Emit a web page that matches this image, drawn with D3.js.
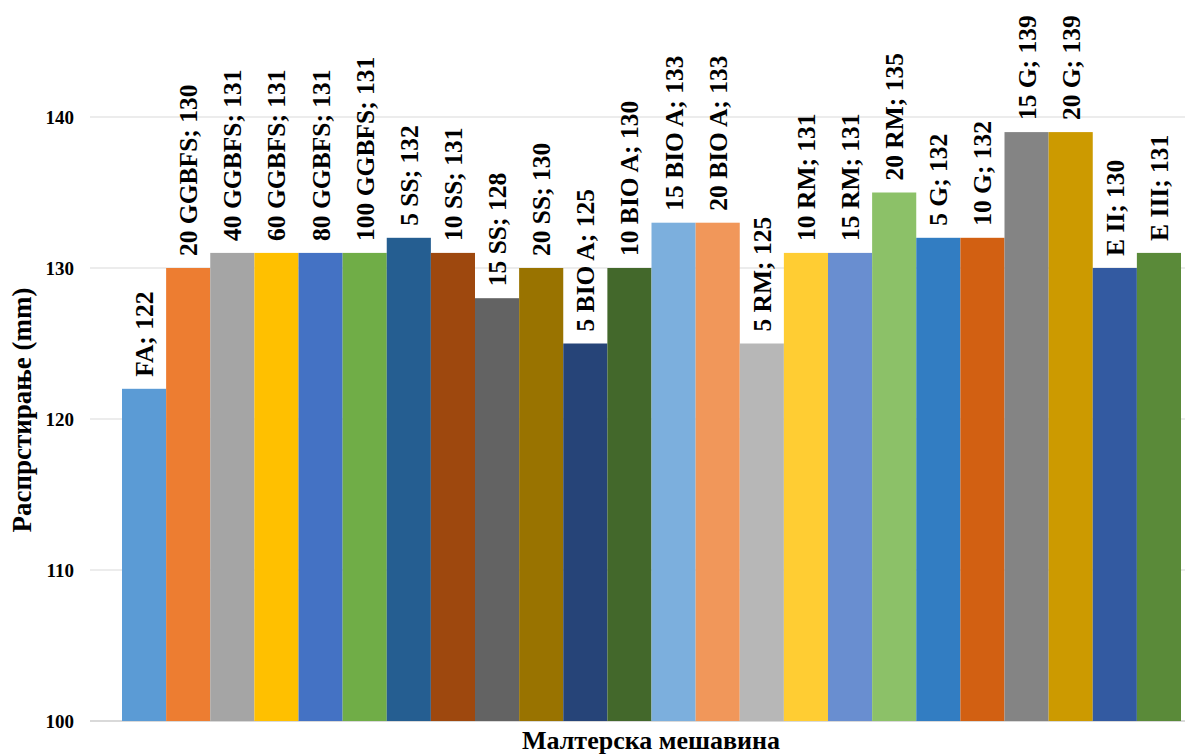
<!DOCTYPE html>
<html>
<head>
<meta charset="utf-8">
<script src="https://cdn.jsdelivr.net/npm/d3@7"></script>
<style>
  html, body { margin: 0; padding: 0; background: #fff; }
  svg { display: block; }
  text { font-family: "Liberation Serif", "Times New Roman", serif; font-weight: bold; fill: #000; }
</style>
</head>
<body>
<svg id="chart" width="1185" height="756"></svg>
<script>
// Mortar mixes and their measured spread (mm)
const categories = [
  "FA", "20 GGBFS", "40 GGBFS", "60 GGBFS", "80 GGBFS", "100 GGBFS",
  "5 SS", "10 SS", "15 SS", "20 SS",
  "5 BIO A", "10 BIO A", "15 BIO A", "20 BIO A",
  "5 RM", "10 RM", "15 RM", "20 RM",
  "5 G", "10 G", "15 G", "20 G",
  "E II", "E III"
];
const spread = [
  122, 130, 131, 131, 131, 131,
  132, 131, 128, 130,
  125, 130, 133, 133,
  125, 131, 131, 135,
  132, 132, 139, 139,
  130, 131
];
const barColors = [
  "#5B9BD5", "#ED7D31", "#A5A5A5", "#FFC000", "#4472C4", "#70AD47",
  "#255E91", "#9E480E", "#636363", "#997300",
  "#264478", "#43682B", "#7CAFDD", "#F1975A",
  "#B7B7B7", "#FFCD33", "#698ED0", "#8CC168",
  "#327DC2", "#D26012", "#848484", "#CC9A00",
  "#335AA1", "#5A8A39"
];
const yTicks = [100, 110, 120, 130, 140];
const yTitle = "Распрстирање (mm)";
const xTitle = "Малтерска мешавина";

const svg = d3.select("#chart");

const y = d3.scaleLinear().domain([100, 140]).range([721, 117]);
const x = d3.scaleBand().domain(categories).range([122, 1181]).padding(0);

// horizontal gridlines
const grid = svg.append("g");
grid.selectAll("line")
  .data(yTicks)
  .join("line")
  .attr("x1", 90).attr("x2", 1185)
  .attr("y1", d => y(d)).attr("y2", d => y(d))
  .attr("stroke", "#d9d9d9")
  .attr("stroke-width", d => d === 100 ? 2 : 1.2);

// y axis tick labels
const yAxis = d3.axisLeft(y).tickValues(yTicks).tickSize(0).tickPadding(0);
const yG = svg.append("g").attr("transform", "translate(74,0)").call(yAxis);
yG.select(".domain").remove();
yG.selectAll("text")
  .attr("font-family", "Liberation Serif, Times New Roman, serif")
  .attr("font-weight", "bold")
  .attr("font-size", 19)
  .attr("fill", "#000");

// bars
svg.append("g")
  .selectAll("rect")
  .data(categories)
  .join("rect")
  .attr("x", d => x(d))
  .attr("width", x.bandwidth())
  .attr("y", (d, i) => y(spread[i]))
  .attr("height", (d, i) => y(100) - y(spread[i]))
  .attr("fill", (d, i) => barColors[i]);

// value labels, rotated above each bar
svg.append("g")
  .selectAll("text")
  .data(categories)
  .join("text")
  .attr("transform", (d, i) =>
    `translate(${x(d) + x.bandwidth() / 2},${y(spread[i]) - 12}) rotate(-90)`)
  .attr("dy", "0.35em")
  .attr("text-anchor", "start")
  .attr("font-size", 25.5)
  .text((d, i) => `${d}; ${spread[i]}`);

// axis titles
svg.append("text")
  .attr("transform", "translate(22,410) rotate(-90)")
  .attr("dy", "0.35em")
  .attr("text-anchor", "middle")
  .attr("font-size", 27)
  .text(yTitle);

svg.append("text")
  .attr("x", 651)
  .attr("y", 749)
  .attr("text-anchor", "middle")
  .attr("font-size", 26)
  .text(xTitle);
</script>
</body>
</html>
